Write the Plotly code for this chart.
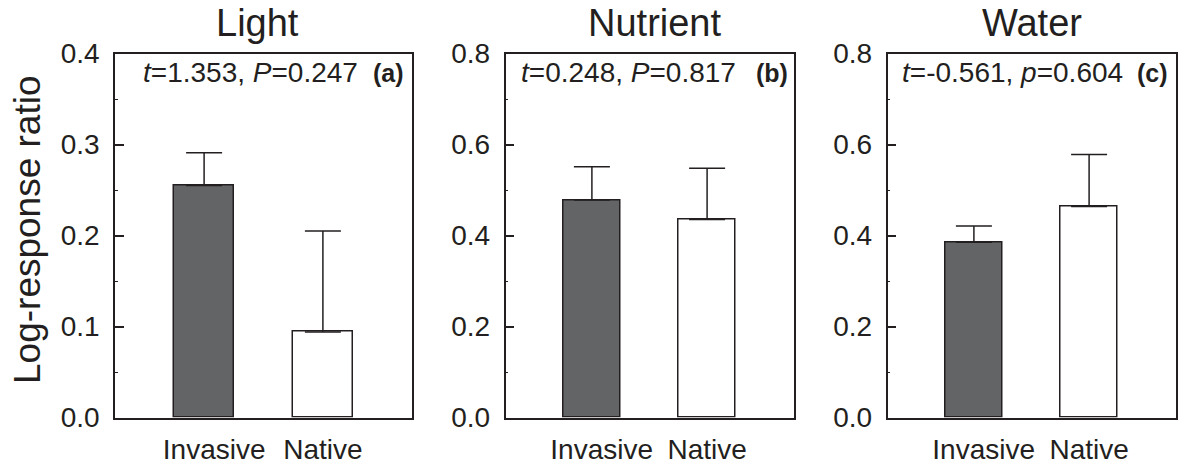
import plotly.graph_objects as go

W, H = 1182, 466

categories = ["Invasive", "Native"]
panel_titles = ["Light", "Nutrient", "Water"]
panel_letters = ["(a)", "(b)", "(c)"]
stat_texts = ["<i>t</i>=1.353, <i>P</i>=0.247",
              "<i>t</i>=0.248, <i>P</i>=0.817",
              "<i>t</i>=-0.561, <i>p</i>=0.604"]
light_means = [0.255, 0.094]
light_se = [0.036, 0.111]
nutrient_means = [0.478, 0.435]
nutrient_se = [0.073, 0.113]
water_means = [0.385, 0.464]
water_se = [0.036, 0.114]
y_max = [0.4, 0.8, 0.8]
y_dtick = [0.1, 0.2, 0.2]

means = [light_means, nutrient_means, water_means]
ses = [light_se, nutrient_se, water_se]

bar_colors = ["#636466", "#ffffff"]
FONT = "Liberation Sans, Arial, Helvetica, sans-serif"
INK = "#231f20"

# panel pixel boxes (left, right)
px_x = [(115, 412), (505.5, 793.5), (887.5, 1175.5)]
px_top, px_bot = 53.5, 417.5
title_dx = [-6, 4.5, 0]
stat_dx = [-52, -56, -51]
letter_dx = [-6, -3.5, -5.5]

def fx(p):
    return p / W

def fy(p):
    return 1 - p / H

fig = go.Figure()
for i in range(3):
    xa = "x" if i == 0 else f"x{i+1}"
    ya = "y" if i == 0 else f"y{i+1}"
    fig.add_trace(go.Bar(
        x=[0, 1], y=means[i],
        marker=dict(color=bar_colors, line=dict(color=INK, width=1.5)),
        width=0.5,
        error_y=dict(type="data", array=ses[i], arrayminus=[0, 0], symmetric=False,
                     color=INK, thickness=1.5, width=18),
        xaxis=xa, yaxis=ya, showlegend=False, hoverinfo="skip",
    ))
    l, r = px_x[i]
    xk = "xaxis" if i == 0 else f"xaxis{i+1}"
    yk = "yaxis" if i == 0 else f"yaxis{i+1}"
    fig.layout[xk] = dict(
        domain=[fx(l), fx(r)], range=[-0.75, 1.75], anchor=ya, automargin=False,
        tickvals=[0.085, 1.0], ticktext=categories, ticks="", showline=True, mirror=True,
        linecolor=INK, linewidth=1.5, showgrid=False, zeroline=False,
        tickfont=dict(family=FONT, size=28, color=INK), ticklabelstandoff=6,
        fixedrange=True,
    )
    fig.layout[yk] = dict(
        domain=[fy(px_bot), fy(px_top)], range=[0, y_max[i]], anchor=xa, automargin=False,
        dtick=y_dtick[i], tickformat=".1f", ticks="inside", ticklen=9, tickwidth=1.5,
        tickcolor=INK, showline=True, mirror=True, linecolor=INK, linewidth=1.5,
        showgrid=False, zeroline=False, fixedrange=True,
        minor=dict(ticks="inside", ticklen=3, tickcolor=INK, tickwidth=1, dtick=y_dtick[i] / 2),
        tickfont=dict(family=FONT, size=28, color=INK), ticklabelstandoff=8,
    )
    # panel title
    fig.add_annotation(text=panel_titles[i], x=fx((l + r) / 2 + title_dx[i]), y=fy(23),
                       xref="paper", yref="paper", xanchor="center", yanchor="middle",
                       showarrow=False, font=dict(family=FONT, size=38, color=INK))
    # stats text
    fig.add_annotation(text=stat_texts[i], x=fx(r + stat_dx[i]), y=fy(73),
                       xref="paper", yref="paper", xanchor="right", yanchor="middle",
                       showarrow=False, font=dict(family=FONT, size=28, color=INK))
    fig.add_annotation(text="<b>" + panel_letters[i] + "</b>", x=fx(r + letter_dx[i]), y=fy(73),
                       xref="paper", yref="paper", xanchor="right", yanchor="middle",
                       showarrow=False, font=dict(family=FONT, size=25, color=INK))

fig.add_annotation(text="Log-response ratio", x=fx(27), y=fy(230), textangle=-90,
                   xref="paper", yref="paper", xanchor="center", yanchor="middle",
                   showarrow=False, font=dict(family=FONT, size=37, color=INK))

fig.update_layout(width=W, height=H, margin=dict(l=0, r=0, t=0, b=0, autoexpand=False),
                  plot_bgcolor="white", paper_bgcolor="white", bargap=0)
fig.write_html("out.html", config={"displayModeBar": False},
               post_script="document.body.style.margin='0';document.body.style.overflow='hidden';")
